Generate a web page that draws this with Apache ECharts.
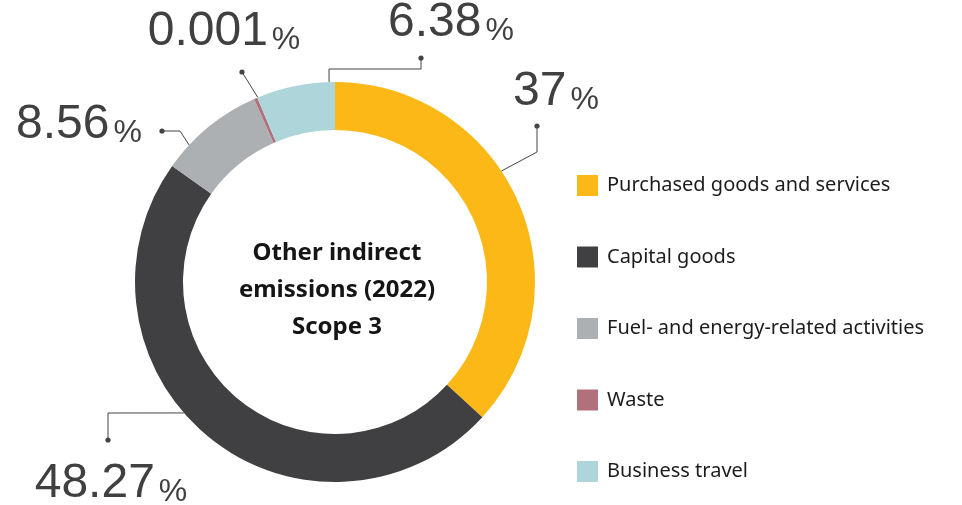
<!DOCTYPE html>
<html>
<head>
<meta charset="utf-8">
<script src="https://cdn.jsdelivr.net/npm/echarts@6/dist/echarts.min.js"></script>
<style>
  html, body { margin: 0; padding: 0; background: #fff; }
  #chart { width: 962px; height: 505px; }
</style>
</head>
<body>
<div id="chart"></div>
<script>
const CATEGORIES = ['Purchased goods and services', 'Capital goods', 'Fuel- and energy-related activities', 'Waste', 'Business travel']
const VALUES = [37, 48.27, 8.56, 0.001, 6.38]
const COLORS = ['#FBB817', '#404042', '#ADB0B3', '#B0717C', '#ADD5DA']

const CENTER = [335, 282]
const RADIUS = [152, 200]
const TEXT_COLOR = '#404041'
const LINE_COLOR = '#444446'

// where each callout touches the ring (deg clockwise from 12 o'clock),
// its elbow points, the dot at the end and the label centre
const CALLOUTS = [
  { angle: 56.3, bends: [[537, 152]], dot: [537, 126], label: [556, 92] },
  { angle: 229.1, bends: [[108, 413]], dot: [108, 440], label: [111, 484] },
  { angle: 313.2, bends: [[180, 131]], dot: [162, 131], label: [79, 125] },
  { angle: 337.3, bends: [], dot: [242, 72], label: [224, 32] },
  { angle: 358.3, bends: [[329, 69], [421, 69]], dot: [421, 58], label: [451, 23] }
]

const ringPoint = (deg) => {
  const a = (deg * Math.PI) / 180
  return [CENTER[0] + RADIUS[1] * Math.sin(a), CENTER[1] - RADIUS[1] * Math.cos(a)]
}

const chart = echarts.init(document.getElementById('chart'), null, { renderer: 'canvas' })

const option = {
  animation: false,
  color: COLORS,
  legend: {
    orient: 'vertical',
    left: 572,
    top: 170,
    icon: 'rect',
    itemWidth: 21,
    itemHeight: 21,
    itemGap: 50.5,
    selectedMode: false,
    data: CATEGORIES,
    textStyle: {
      fontFamily: 'Noto Sans',
      fontSize: 20,
      color: '#1c1c1c',
      padding: [0, 0, 0, 4]
    }
  },
  graphic: [
    {
      type: 'text',
      x: 337,
      y: 290,
      style: {
        text: 'Other indirect\nemissions (2022)\nScope 3',
        align: 'center',
        verticalAlign: 'middle',
        fontFamily: 'Noto Sans',
        fontWeight: 'bold',
        fontSize: 24,
        lineHeight: 37,
        fill: '#151515'
      }
    },
    ...CALLOUTS.map((c) => ({
      type: 'circle',
      shape: { cx: c.dot[0], cy: c.dot[1], r: 2.6 },
      style: { fill: LINE_COLOR },
      z: 10
    }))
  ],
  series: [
    {
      type: 'pie',
      center: CENTER,
      radius: RADIUS,
      startAngle: 90,
      minAngle: 1,
      clockwise: true,
      silent: true,
      emphasis: { disabled: true },
      data: CATEGORIES.map((name, i) => ({ name, value: VALUES[i] })),
      label: {
        show: true,
        position: 'outside',
        overflow: 'none',
        width: 220,
        formatter: (p) => `{v|${p.value}}{p|%}`,
        rich: {
          v: {
            fontFamily: 'Liberation Sans',
            fontSize: 48,
            color: TEXT_COLOR,
            lineHeight: 48,
            verticalAlign: 'bottom'
          },
          p: {
            fontFamily: 'Liberation Sans',
            fontSize: 32,
            color: TEXT_COLOR,
            lineHeight: 42,
            verticalAlign: 'bottom',
            padding: [0, 0, 0, 4]
          }
        }
      },
      labelLine: {
        show: true,
        lineStyle: { color: LINE_COLOR, width: 1 }
      },
      labelLayout: (params) => {
        const c = CALLOUTS[params.dataIndex]
        return {
          x: c.label[0],
          y: c.label[1],
          align: 'center',
          verticalAlign: 'middle',
          labelLinePoints: [ringPoint(c.angle), ...c.bends, c.dot]
        }
      }
    }
  ]
}

chart.setOption(option)
</script>
</body>
</html>
